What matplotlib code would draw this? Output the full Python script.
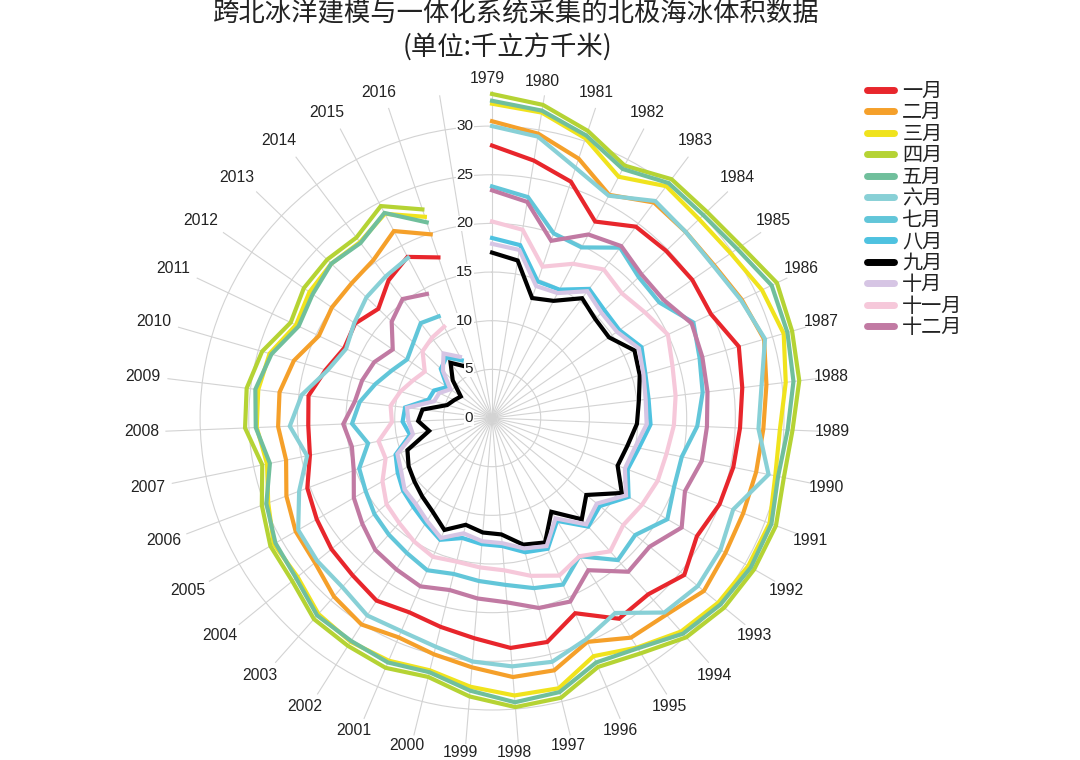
import numpy as np
import matplotlib
matplotlib.use("Agg")
import matplotlib.pyplot as plt
from matplotlib.lines import Line2D

plt.rcParams['font.family'] = ['Noto Sans CJK SC', 'DejaVu Sans']

years = list(range(1979, 2017))
n_slots = 39  # 1979..2017, the last spoke has no data

month_names = ['一月', '二月', '三月', '四月', '五月', '六月',
               '七月', '八月', '九月', '十月', '十一月', '十二月']
month_colors = ['#e8262c', '#f5a02a', '#f0e31d', '#b5d334', '#70bf9c', '#88d0d6',
                '#62c6d9', '#4ec2e0', '#000000', '#d6c5e4', '#f6c8da', '#c17aa3']

# thousand km^3, 1979-2016 (Jan-May) and 1979-2015 (Jun-Dec)
jan = [28.0, 26.8, 25.6, 22.8, 24.6, 24.8, 25.0, 24.9, 26.4, 25.9, 25.5, 25.3, 25.0,
       24.3, 25.5, 24.2, 24.4, 21.8, 23.7, 23.7, 22.7, 22.1, 21.7, 22.2, 21.6, 21.3,
       20.8, 20.3, 19.1, 18.9, 19.0, 17.8, 16.8, 17.1, 16.2, 17.7, 18.7, 17.4]
feb = [30.5, 29.6, 28.1, 25.9, 27.7, 27.6, 27.7, 28.4, 29.1, 28.4, 27.9, 27.7, 27.6,
       27.7, 28.1, 27.0, 26.7, 25.0, 26.7, 26.7, 25.7, 25.0, 24.5, 25.1, 24.5, 23.5,
       23.3, 22.6, 21.6, 22.0, 22.0, 21.2, 19.7, 20.0, 20.0, 20.3, 21.7, 19.9]
mar = [32.3, 31.8, 30.3, 28.0, 29.8, 29.5, 29.8, 30.7, 31.2, 30.4, 29.6, 29.7, 30.5,
       30.4, 30.0, 29.3, 27.9, 26.6, 28.6, 28.6, 27.7, 26.7, 27.1, 27.2, 26.9, 25.8,
       25.9, 24.6, 23.6, 24.2, 24.2, 23.8, 22.3, 22.8, 22.9, 22.6, 23.7, 21.8]
apr = [33.3, 32.6, 31.1, 29.3, 30.7, 30.6, 31.1, 32.4, 32.1, 31.8, 30.9, 30.6, 31.2,
       31.1, 30.8, 30.1, 28.6, 27.8, 29.6, 29.8, 28.7, 27.4, 27.9, 27.7, 27.6, 26.5,
       26.3, 25.3, 24.1, 25.4, 25.4, 24.6, 22.9, 23.5, 23.5, 23.2, 24.6, 22.6]
may = [32.6, 32.0, 30.6, 28.9, 30.2, 30.1, 30.6, 31.8, 31.6, 31.2, 30.4, 30.0, 30.7,
       30.7, 30.3, 29.6, 28.0, 27.3, 29.0, 29.3, 28.1, 26.9, 27.3, 27.1, 27.1, 26.0,
       25.7, 24.8, 23.3, 24.3, 24.5, 23.6, 22.0, 22.4, 22.9, 22.5, 23.8, 21.2]
jun = [30.0, 29.3, 27.1, 25.8, 27.9, 27.6, 27.6, 28.3, 29.2, 27.9, 27.4, 29.0, 26.5,
       27.1, 27.3, 26.7, 23.7, 24.7, 25.8, 25.6, 25.1, 24.2, 23.8, 24.0, 23.2, 23.2,
       23.0, 21.2, 19.4, 20.8, 19.7, 17.6, 16.6, 17.2, 17.9, 18.2, 18.6]
jul = [23.8, 23.0, 20.0, 19.8, 21.9, 20.9, 20.9, 22.9, 22.2, 21.8, 21.1, 19.9, 20.0,
       20.8, 19.0, 19.5, 16.8, 18.6, 18.0, 17.2, 16.8, 16.5, 17.0, 16.4, 16.0, 15.6,
       15.0, 14.6, 13.0, 14.4, 13.7, 12.5, 11.4, 10.6, 11.2, 12.2, 11.8]
aug = [18.5, 18.0, 14.8, 14.9, 16.6, 16.0, 15.9, 17.0, 16.4, 16.2, 16.3, 15.4, 14.9,
       16.2, 14.3, 14.9, 12.5, 14.6, 14.2, 13.2, 13.0, 12.7, 13.6, 12.8, 12.2, 11.8,
       11.2, 10.6, 8.6, 9.2, 9.0, 6.8, 6.6, 5.6, 7.3, 7.8, 6.7]
sep = [17.0, 16.4, 13.0, 13.6, 15.4, 14.7, 14.6, 16.2, 15.8, 15.2, 14.9, 14.2, 13.8,
       15.4, 12.5, 13.9, 11.4, 13.9, 13.4, 12.0, 11.8, 11.3, 12.5, 11.4, 10.8, 10.3,
       9.9, 9.3, 6.6, 7.6, 7.2, 4.8, 4.3, 3.9, 5.6, 7.1, 6.0]
oct_ = [17.9, 17.5, 14.3, 14.5, 16.3, 15.6, 15.6, 16.7, 16.2, 15.9, 15.9, 15.0, 14.6,
        15.9, 13.9, 14.6, 12.2, 14.3, 13.8, 12.9, 12.7, 12.2, 13.4, 12.5, 11.8, 11.6,
        10.8, 10.4, 8.3, 8.6, 8.8, 6.2, 6.0, 5.2, 7.0, 8.3, 7.1]
nov = [20.2, 19.6, 16.4, 17.9, 19.1, 18.5, 19.1, 20.0, 19.3, 19.0, 18.7, 18.3, 18.2,
       17.8, 17.4, 18.3, 16.8, 17.6, 16.7, 15.7, 15.4, 15.2, 15.5, 15.0, 14.4, 14.0,
       13.0, 11.7, 11.9, 10.3, 10.5, 9.8, 9.0, 8.4, 9.9, 10.3, 10.6]
dec = [23.4, 22.5, 19.2, 21.3, 22.1, 21.3, 21.4, 22.7, 22.5, 22.3, 22.1, 22.0, 21.2,
       22.5, 20.9, 21.1, 18.5, 20.5, 20.1, 19.0, 18.6, 18.2, 18.8, 18.4, 18.1, 17.2,
       16.4, 15.2, 14.7, 15.3, 14.2, 13.9, 13.4, 12.4, 14.3, 15.3, 14.4]
monthly = [jan, feb, mar, apr, may, jun, jul, aug, sep, oct_, nov, dec]

radial_ticks = [0, 5, 10, 15, 20, 25, 30]
r_max = 33.6
px_per_unit = 9.73

fig = plt.figure(figsize=(10.8, 7.6), dpi=100)
ax = fig.add_axes([0.1528, 0.0197, 0.6056, 0.8605], projection='polar')
ax.set_theta_zero_location('N')
ax.set_theta_direction(-1)
ax.set_ylim(0, r_max)

theta = np.arange(n_slots) * 2 * np.pi / n_slots
ax.set_xticks(theta)
ax.set_xticklabels([])
ax.set_yticks(radial_ticks[1:])
ax.set_yticklabels([])
ax.grid(True, color='#d3d3d3', lw=0.8)
ax.spines['polar'].set_visible(False)

for vals, col, name in zip(monthly, month_colors, month_names):
    ax.plot(theta[:len(vals)], vals, color=col, lw=3, label=name,
            solid_joinstyle='miter', zorder=3)

# pick a size so the narrow year labels come out about as wide as the original
year_font = ['Liberation Sans Narrow', 'Liberation Sans', 'DejaVu Sans']
renderer = fig.canvas.get_renderer()
probe = fig.text(0, 0, '1988', fontsize=12.8, family=year_font)
w = probe.get_window_extent(renderer).width
probe.remove()
year_size = 12.8 if w <= 34 else 12.8 * 35.0 / w
tick_size = year_size * 0.97

for t, yr in zip(theta, years):
    s, c = np.sin(t), np.cos(t)
    r_lab = (330 + 2.5 * c + 15.5 * abs(s) + 6.5 * abs(c)) / px_per_unit
    ax.annotate(str(yr), xy=(t, r_lab), xytext=(-3.5, 0), textcoords='offset points',
                ha='center', va='center', fontsize=year_size, family=year_font,
                color='#222222', annotation_clip=False)

# radial labels to the left of the 1979 spoke
for v in radial_ticks:
    ax.annotate(str(v), xy=(0, v), xytext=(-13.5, 0), textcoords='offset points',
                ha='right', va='center', fontsize=tick_size, family=year_font,
                color='#222222',
                bbox=dict(boxstyle='square,pad=0.05', fc='white', ec='none'))

fig.text(0.478, 0.982, '跨北冰洋建模与一体化系统采集的北极海冰体积数据',
         ha='center', va='center', fontsize=19, color='#222222', fontweight='light')
fig.text(0.470, 0.939, '(单位:千立方千米)', ha='center', va='center',
         fontsize=19, color='#222222', fontweight='light')

handles = [Line2D([], [], color=c, lw=5, solid_capstyle='round') for c in month_colors]
fig.legend(handles, month_names, loc='upper left', bbox_to_anchor=(0.7935, 0.907),
           frameon=False, fontsize=14.5, handlelength=1.35, handletextpad=0.4,
           labelspacing=0.025, borderpad=0, labelcolor='#222222')

fig.savefig('out.png', dpi=100)
